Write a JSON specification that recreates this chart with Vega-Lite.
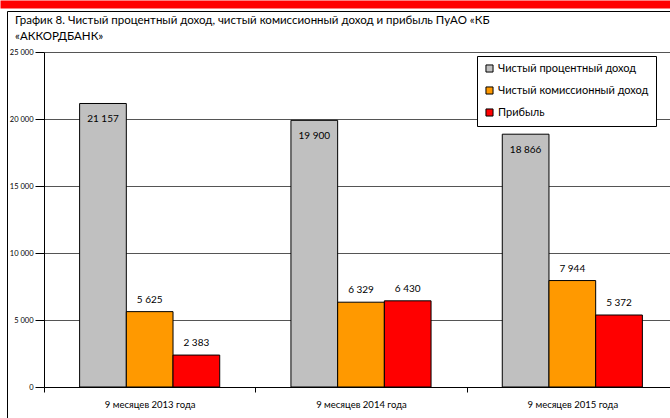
{
  "$schema": "https://vega.github.io/schema/vega-lite/v6.json",
  "width": 663,
  "height": 407,
  "autosize": {"type": "none"},
  "padding": {"left": 7, "top": 11, "right": 0, "bottom": 0},
  "background": "#ffffff",
  "config": {
    "font": "Lato",
    "locale": {"number": {"decimal": ",", "thousands": " ", "grouping": [3], "currency": ["", ""]}},
    "view": {"stroke": "#000000", "strokeWidth": 1, "strokeDash": [663, 1070, 407, 0]}
  },
  "title": {
    "text": ["График 8. Чистый процентный доход, чистый комиссионный доход и прибыль ПуАО «КБ", "«АККОРДБАНК»"],
    "anchor": "start",
    "frame": "group",
    "orient": "top",
    "offset": -38,
    "baseline": "top",
    "dx": 8,
    "fontSize": 11.5,
    "fontWeight": "normal",
    "color": "#000000",
    "lineHeight": 16
  },
  "data": {
    "values": [
      {"period": "9 месяцев 2013 года", "series": "Чистый процентный доход", "value": 21157},
      {"period": "9 месяцев 2013 года", "series": "Чистый комиссионный доход", "value": 5625},
      {"period": "9 месяцев 2013 года", "series": "Прибыль", "value": 2383},
      {"period": "9 месяцев 2014 года", "series": "Чистый процентный доход", "value": 19900},
      {"period": "9 месяцев 2014 года", "series": "Чистый комиссионный доход", "value": 6329},
      {"period": "9 месяцев 2014 года", "series": "Прибыль", "value": 6430},
      {"period": "9 месяцев 2015 года", "series": "Чистый процентный доход", "value": 18866},
      {"period": "9 месяцев 2015 года", "series": "Чистый комиссионный доход", "value": 7944},
      {"period": "9 месяцев 2015 года", "series": "Прибыль", "value": 5372}
    ]
  },
  "layer": [
    {
      "encoding": {
        "x": {
          "field": "period", "type": "nominal", "sort": null,
          "scale": {"range": [37, 671], "paddingInner": 0, "paddingOuter": 0},
          "axis": {"orient": "bottom", "offset": -31, "title": null, "labelAngle": 0, "labelFontSize": 9.5, "labelColor": "#000000", "labelPadding": 7, "tickBand": "extent", "tickSize": 5, "tickColor": "#000000", "domainColor": "#000000", "grid": false}
        },
        "xOffset": {
          "field": "series", "type": "nominal",
          "scale": {"domain": ["Чистый процентный доход", "Чистый комиссионный доход", "Прибыль"], "paddingInner": 0, "paddingOuter": 0.7625}
        },
        "y": {
          "field": "value", "type": "quantitative",
          "scale": {"domain": [0, 25000], "range": [376, 41], "nice": false},
          "axis": {"orient": "left", "offset": -37, "title": null, "format": ",d", "values": [0, 5000, 10000, 15000, 20000, 25000], "labelFontSize": 7.5, "labelColor": "#000000", "labelPadding": 2, "tickSize": 9, "tickColor": "#000000", "domainColor": "#000000", "grid": true, "gridColor": "#555555", "gridWidth": 1}
        }
      },
      "layer": [
        {
          "mark": {"type": "bar", "stroke": "#000000", "strokeWidth": 1},
          "encoding": {
            "color": {
              "field": "series", "type": "nominal",
              "scale": {"domain": ["Чистый процентный доход", "Чистый комиссионный доход", "Прибыль"], "range": ["#C0C0C0", "#FF9900", "#FF0000"]},
              "legend": {"title": null, "orient": "none", "legendX": 470, "legendY": 45, "direction": "vertical", "symbolType": "square", "symbolSize": 50, "symbolStrokeColor": "#000000", "symbolStrokeWidth": 1, "labelFontSize": 11, "labelColor": "#000000", "rowPadding": 9, "padding": 7, "strokeColor": "#000000", "fillColor": "#ffffff", "labelOffset": 3}
            }
          }
        },
        {
          "transform": [{"filter": "datum.series === 'Чистый процентный доход'"}],
          "mark": {"type": "text", "baseline": "middle", "dy": 16, "fontSize": 10, "color": "#000000"},
          "encoding": {"text": {"field": "value", "type": "quantitative", "format": ",d"}}
        },
        {
          "transform": [{"filter": "datum.series !== 'Чистый процентный доход'"}],
          "mark": {"type": "text", "baseline": "middle", "dy": -12, "fontSize": 10, "color": "#000000"},
          "encoding": {"text": {"field": "value", "type": "quantitative", "format": ",d"}}
        }
      ]
    },
    {
      "mark": {"type": "point", "opacity": 0},
      "encoding": {
        "x": {
          "field": "value", "type": "quantitative",
          "scale": {"domain": [0, 25000], "range": [-7, 663], "nice": false},
          "axis": {"orient": "top", "offset": 7, "domainColor": "#FF0000", "domainWidth": 8, "domainCap": "butt", "labels": false, "ticks": false, "grid": false, "title": null}
        }
      }
    }
  ],
  "resolve": {"scale": {"x": "independent"}, "axis": {"x": "independent"}}
}
